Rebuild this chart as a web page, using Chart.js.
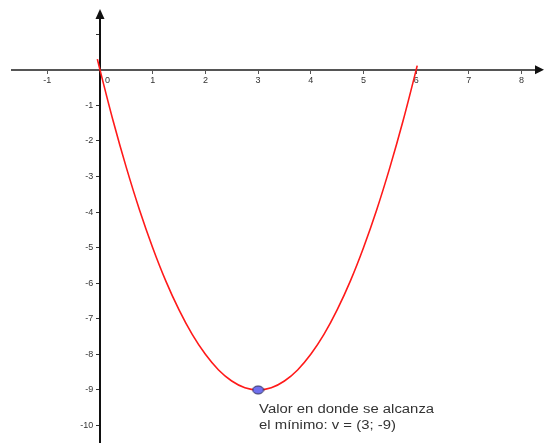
<!DOCTYPE html>
<html>
<head>
<meta charset="utf-8">
<script src="https://cdn.jsdelivr.net/npm/chart.js@4/dist/chart.umd.min.js"></script>
<style>
html,body{margin:0;padding:0;background:#fff;}
#wrap{width:544px;height:443px;}
</style>
</head>
<body>
<div id="wrap"><canvas id="c" width="544" height="443"></canvas></div>
<script>
// Curve f(x) (vertex at (3, -9), roots at 0 and 6)
const curveX = [-0.05, 0, 0.25, 0.5, 0.75, 1, 1.25, 1.5, 1.75, 2, 2.25, 2.5, 2.75, 3,
                3.25, 3.5, 3.75, 4, 4.25, 4.5, 4.75, 5, 5.25, 5.5, 5.75, 6, 6.02];
const curveY = [0.3, 0, -1.44, -2.75, -3.94, -5, -5.94, -6.75, -7.44, -8, -8.44, -8.75, -8.94, -9,
                -8.94, -8.75, -8.44, -8, -7.44, -6.75, -5.94, -5, -3.94, -2.75, -1.44, 0, 0.12];
const vertexX = [3];
const vertexY = [-9];
const xTickLabels = ['-1', '0', '1', '2', '3', '4', '5', '6', '7', '8'];
const yTickLabels = ['-1', '-2', '-3', '-4', '-5', '-6', '-7', '-8', '-9', '-10'];
const noteLines = ['Valor en donde se alcanza', 'el mínimo: v = (3; -9)'];

const curveData = curveX.map((x, i) => ({x: x, y: curveY[i]}));
const vertexData = vertexX.map((x, i) => ({x: x, y: vertexY[i]}));

const tickFont = {family: "'Liberation Sans', Arial, sans-serif", size: 9};

// elliptical point marker (the picture is stretched horizontally)
const marker = document.createElement('canvas');
marker.width = 13; marker.height = 10;
(function () {
  const m = marker.getContext('2d');
  m.beginPath();
  m.ellipse(6.5, 5, 5.5, 4, 0, 0, Math.PI * 2);
  m.fillStyle = '#7070ee';
  m.fill();
  m.lineWidth = 1;
  m.strokeStyle = '#2a2a55';
  m.stroke();
})();

const decor = {
  id: 'decor',
  afterDraw(chart) {
    const ctx = chart.ctx;
    const xs = chart.scales.x, ys = chart.scales.y;
    const ox = xs.getPixelForValue(0), oy = ys.getPixelForValue(0);
    ctx.save();
    // arrow on x axis
    ctx.fillStyle = '#111';
    ctx.beginPath();
    ctx.moveTo(544, oy);
    ctx.lineTo(535, oy - 4.5);
    ctx.lineTo(535, oy + 4.5);
    ctx.closePath();
    ctx.fill();
    // arrow on y axis
    ctx.beginPath();
    ctx.moveTo(ox, 9);
    ctx.lineTo(ox - 4.5, 19);
    ctx.lineTo(ox + 4.5, 19);
    ctx.closePath();
    ctx.fill();
    // annotation (horizontally stretched like the picture)
    ctx.fillStyle = '#333';
    ctx.font = "12.5px 'Liberation Sans', Arial, sans-serif";
    ctx.textBaseline = 'alphabetic';
    ctx.textAlign = 'left';
    const tx = xs.getPixelForValue(vertexX[0]) + 1;
    const ty = ys.getPixelForValue(vertexY[0]) + 23;
    const sx = 175 / ctx.measureText(noteLines[0]).width;
    ctx.translate(tx, ty);
    ctx.scale(sx, 1);
    noteLines.forEach((t, i) => ctx.fillText(t, 0, i * 16));
    ctx.restore();
  }
};

new Chart(document.getElementById('c'), {
  type: 'scatter',
  data: {
    datasets: [
      {
        data: curveData,
        showLine: true,
        borderColor: '#ff1a1a',
        borderWidth: 1.6,
        pointRadius: 0,
        cubicInterpolationMode: 'monotone',
        fill: false,
        order: 2
      },
      {
        data: vertexData,
        pointStyle: marker,
        pointRadius: 5,
        order: 1
      }
    ]
  },
  options: {
    responsive: false,
    animation: false,
    devicePixelRatio: 1,
    layout: {autoPadding: false, padding: {left: 12, right: 4, top: 14, bottom: 0}},
    plugins: {legend: {display: false}, tooltip: {enabled: false}},
    scales: {
      x: {
        type: 'linear',
        position: {y: 0},
        min: -1.67,
        max: 8.35,
        grid: {drawOnChartArea: false, drawTicks: true, tickLength: 3, tickColor: '#555', tickWidth: 1},
        border: {display: true, color: '#555', width: 2},
        ticks: {
          stepSize: 1,
          includeBounds: false,
          autoSkip: false,
          maxRotation: 0,
          padding: 2,
          color: '#333',
          font: tickFont,
          callback: (v) => {
            const s = String(v);
            if (!xTickLabels.includes(s)) return '';
            return s === '0' ? '\u2007\u2007\u20070' : s;
          }
        }
      },
      y: {
        type: 'linear',
        position: {x: 0},
        min: -10.48,
        max: 1.57,
        grid: {drawOnChartArea: false, drawTicks: true, tickLength: 3, tickColor: '#333', tickWidth: 1},
        border: {display: true, color: '#111', width: 2},
        ticks: {
          stepSize: 1,
          includeBounds: false,
          autoSkip: false,
          padding: 0,
          color: '#333',
          font: {family: tickFont.family, size: 9, lineHeight: 0.1},
          callback: (v) => {
            const s = String(v);
            return yTickLabels.includes(s) ? s + '\u2007\u2009' : '';
          }
        }
      }
    }
  },
  plugins: [decor]
});
</script>
</body>
</html>
